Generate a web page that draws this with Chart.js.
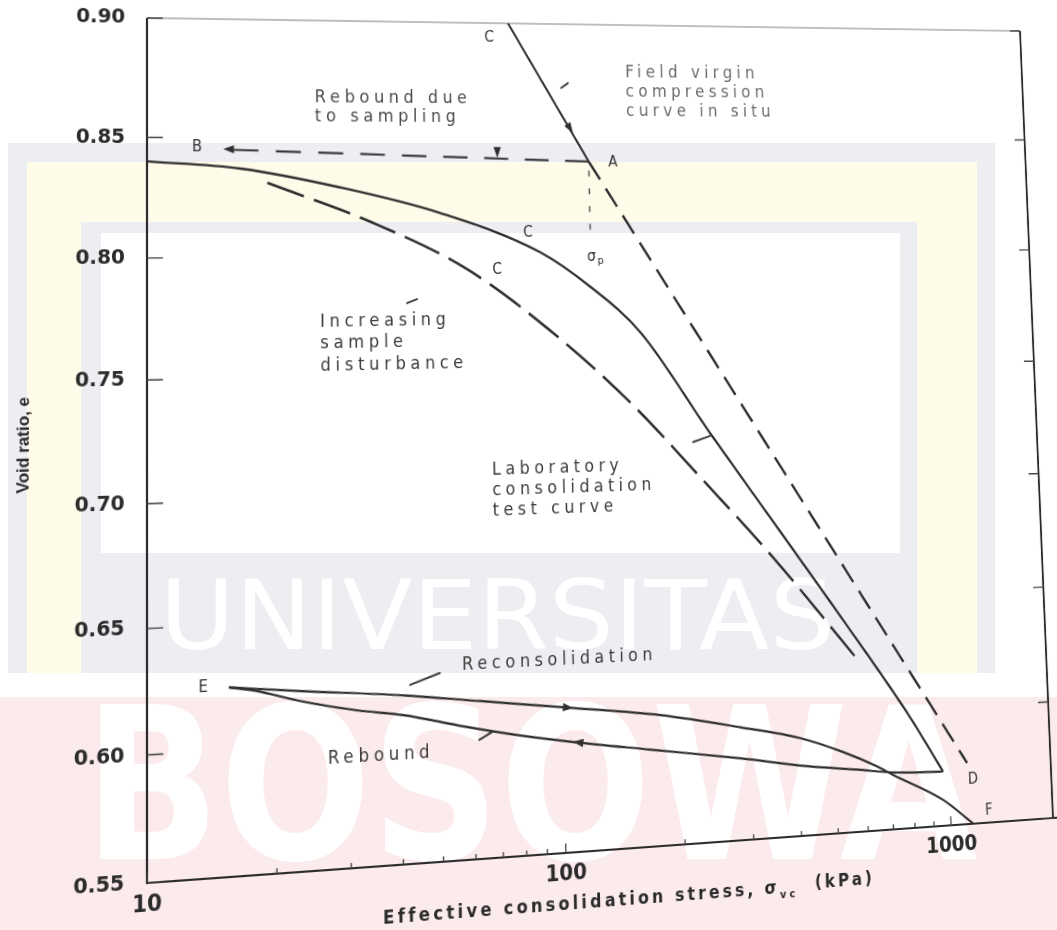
<!DOCTYPE html>
<html>
<head>
<meta charset="utf-8">
<script src="https://cdn.jsdelivr.net/npm/chart.js@4.4.1/dist/chart.umd.min.js"></script>
<style>
  html, body { margin: 0; padding: 0; width: 1057px; height: 930px; overflow: hidden; background: #fff; }
  #bg { position: absolute; left: 0; top: 0; }
  #chart { position: absolute; left: 0; top: 0; transform-origin: 0 0; }
</style>
</head>
<body>
<canvas id="bg" width="1057" height="930"></canvas>
<canvas id="chart" width="1180" height="930"></canvas>
<script>
// ---------------- data: effective stress (kPa) and void ratio e ----------------
const stressTicks = [10, 20, 30, 40, 50, 60, 70, 80, 90, 100, 200, 300, 400, 500, 600, 700, 800, 900, 1000];
const stressLabels = [10, 100, 1000];
const voidTicks = [0.55, 0.60, 0.65, 0.70, 0.75, 0.80, 0.85, 0.90];

// field virgin compression curve in situ (through A down to D)
const fieldStress = [78, 124, 1121];
const fieldVoid = [0.900, 0.840, 0.576];

// rebound due to sampling, A -> B
const samplingStress = [124, 15.2];
const samplingVoid = [0.840, 0.845];

// preconsolidation stress marker below A
const preconStress = [124, 124];
const preconVoid = [0.836, 0.809];

// laboratory consolidation test curve
const labStress = [10, 16.7, 29.2, 51.6, 91.9, 123, 165, 247, 364, 536, 794, 963];
const labVoid = [0.840, 0.837, 0.829, 0.818, 0.801, 0.786, 0.766, 0.722, 0.681, 0.640, 0.597, 0.573];

// curve with increasing sample disturbance
const disturbedStress = [19.4, 35.1, 60.0, 100.6, 154, 235, 362, 580];
const disturbedVoid = [0.831, 0.814, 0.794, 0.765, 0.736, 0.702, 0.666, 0.623];

// rebound from the maximum load back to E
const reboundStress = [15.5, 18.0, 22.8, 31.2, 40.5, 56.7, 77.9, 106, 165, 282, 419, 578, 707, 963];
const reboundVoid = [0.625, 0.623, 0.618, 0.613, 0.610, 0.604, 0.599, 0.595, 0.590, 0.584, 0.579, 0.576, 0.574, 0.573];

// reconsolidation from E on to F
const reloadStress = [15.5, 22.8, 40.6, 62.2, 106, 176, 282, 403, 522, 641, 706, 957, 1150];
const reloadVoid = [0.625, 0.622, 0.618, 0.614, 0.609, 0.604, 0.597, 0.591, 0.584, 0.577, 0.573, 0.561, 0.550];

// ---------------- annotation layout (stress, e) ----------------
const textBlocks = [
  { lines: ['Rebound due', 'to sampling'], at: [25.4, 0.867], gap: 19, color: '#4a4a4a' },
  { lines: ['Field virgin', 'compression', 'curve in situ'], at: [156, 0.879], gap: 20, color: '#6a6a6a' },
  { lines: ['Increasing', 'sample', 'disturbance'], at: [25.9, 0.7726], gap: 21.5, color: '#3a3a3a' },
  { lines: ['Laboratory', 'consolidation', 'test curve'], at: [68.0, 0.7092], gap: 20, color: '#3a3a3a' },
  { lines: ['Reconsolidation'], at: [56.4, 0.6291], gap: 20, color: '#3a3a3a' },
  { lines: ['Rebound'], at: [26.5, 0.5942], gap: 20, color: '#3a3a3a' }
];
const pointLetters = [
  ['B', 13.15, 0.846], ['A', 143.3, 0.8394], ['C', 69.7, 0.8935], ['C', 85.9, 0.8092],
  ['C', 71.4, 0.7935], ['D', 1159, 0.5686], ['E', 13.5, 0.6253], ['F', 1271, 0.5549]
];
const sigmaLabel = [127.2, 0.7987];
const leaderMarks = [
  [106.1, 0.8720, 110.6, 0.8742],
  [42.4, 0.7800, 44.9, 0.7816],
  [222.6, 0.7184, 246.7, 0.7208],
  [42.0, 0.6221, 49.7, 0.6263],
  [61.7, 0.5982, 66.4, 0.6011]
];
// arrowheads: tip (stress, e) then a point behind it
const arrowMarks = [
  [15.2, 0.8452, 19.0, 0.8449],
  [113.3, 0.8524, 102, 0.865],
  [106, 0.609, 90, 0.6107],
  [105.5, 0.5951, 125, 0.5931],
  [72.3, 0.8416, 72.3, 0.8452]
];

const ink = '#303030';
const pts = (xs, ys) => xs.map((v, i) => ({ x: v, y: ys[i] }));

// ---------------- faint page watermark behind the plot ----------------
(function paintBackdrop() {
  const g = document.getElementById('bg').getContext('2d');
  g.fillStyle = '#ffffff'; g.fillRect(0, 0, 1057, 930);
  g.fillStyle = '#eceef1'; g.fillRect(8, 143, 987, 530);
  g.fillStyle = '#fffbe9'; g.fillRect(27, 162, 950, 511);
  g.fillStyle = '#eceef1'; g.fillRect(81, 222, 836, 451);
  g.fillStyle = '#ffffff'; g.fillRect(101, 233, 799, 320);
  g.fillStyle = '#fcebec'; g.fillRect(0, 697, 1057, 233);
  function fit(text, x0, y0, x1, y1, font) {
    g.save();
    g.font = font;
    const m = g.measureText(text);
    const w = m.actualBoundingBoxLeft + m.actualBoundingBoxRight;
    const h = m.actualBoundingBoxAscent + m.actualBoundingBoxDescent;
    g.translate(x0, y0);
    g.scale((x1 - x0) / w, (y1 - y0) / h);
    g.fillStyle = '#ffffff';
    g.textBaseline = 'alphabetic';
    g.fillText(text, m.actualBoundingBoxLeft, m.actualBoundingBoxAscent);
    g.restore();
  }
  fit('UNIVERSITAS', 168, 577, 829, 650, '100px "DejaVu Sans"');
  fit('BOSOWA', 100, 700, 977, 862, 'bold 200px "DejaVu Sans"');
})();

// ---------------- helpers ----------------
function spaced(ctx, px) { if ('letterSpacing' in ctx) ctx.letterSpacing = px + 'px'; }

const frameLayer = {
  id: 'frameLayer',
  beforeDatasetsDraw(chart) {
    const { ctx, chartArea: ca, scales: { x, y } } = chart;
    ctx.save();
    ctx.lineCap = 'butt';
    ctx.strokeStyle = '#2c2c2c';
    ctx.lineWidth = 2.2;
    ctx.beginPath();
    ctx.moveTo(ca.left, ca.top); ctx.lineTo(ca.left, ca.bottom);
    ctx.lineTo(ca.right + 30, ca.bottom);
    ctx.moveTo(ca.right, ca.top); ctx.lineTo(ca.right, ca.bottom);
    ctx.stroke();
    ctx.strokeStyle = '#a9a9a9';
    ctx.lineWidth = 1.3;
    ctx.beginPath(); ctx.moveTo(ca.left, ca.top); ctx.lineTo(ca.right, ca.top); ctx.stroke();
    // inward tick marks
    ctx.strokeStyle = '#444';
    ctx.lineWidth = 1.4;
    ctx.beginPath();
    voidTicks.forEach(v => {
      const yy = y.getPixelForValue(v);
      ctx.moveTo(ca.left, yy); ctx.lineTo(ca.left + 16, yy);
      ctx.moveTo(ca.right, yy); ctx.lineTo(ca.right - 12, yy);
    });
    stressTicks.forEach(v => {
      const xx = x.getPixelForValue(v);
      const len = stressLabels.includes(v) ? 9 : 5;
      ctx.moveTo(xx, ca.bottom); ctx.lineTo(xx, ca.bottom - len);
    });
    ctx.stroke();
    ctx.restore();
  }
};

const noteLayer = {
  id: 'noteLayer',
  afterDatasetsDraw(chart) {
    const { ctx, scales: { x, y } } = chart;
    const X = v => x.getPixelForValue(v), Y = v => y.getPixelForValue(v);
    ctx.save();
    ctx.strokeStyle = '#3a3a3a'; ctx.lineWidth = 2; ctx.lineCap = 'round';
    leaderMarks.forEach(([x1, e1, x2, e2]) => {
      ctx.beginPath(); ctx.moveTo(X(x1), Y(e1)); ctx.lineTo(X(x2), Y(e2)); ctx.stroke();
    });
    ctx.fillStyle = ink;
    arrowMarks.forEach(([tx, te, fx, fe]) => {
      const x1 = X(tx), y1 = Y(te), x0 = X(fx), y0 = Y(fe);
      const a = Math.atan2(y1 - y0, x1 - x0), L = 11, W = 4;
      ctx.beginPath();
      ctx.moveTo(x1, y1);
      ctx.lineTo(x1 - L * Math.cos(a) + W * Math.sin(a), y1 - L * Math.sin(a) - W * Math.cos(a));
      ctx.lineTo(x1 - L * Math.cos(a) - W * Math.sin(a), y1 - L * Math.sin(a) + W * Math.cos(a));
      ctx.closePath(); ctx.fill();
    });
    ctx.textBaseline = 'middle';
    ctx.textAlign = 'left';
    ctx.font = '17px "DejaVu Sans"';
    spaced(ctx, 4.9);
    textBlocks.forEach(b => {
      ctx.fillStyle = b.color;
      const x0 = X(b.at[0]), y0 = Y(b.at[1]);
      b.lines.forEach((t, i) => ctx.fillText(t, x0, y0 + i * b.gap));
    });
    spaced(ctx, 0);
    ctx.textAlign = 'center';
    ctx.font = '15px "DejaVu Sans"';
    ctx.fillStyle = '#333';
    pointLetters.forEach(([t, sx, se]) => ctx.fillText(t, X(sx), Y(se)));
    // sigma_p label
    const sx = X(sigmaLabel[0]), sy = Y(sigmaLabel[1]);
    ctx.font = '15px "DejaVu Sans"';
    ctx.fillText('σ', sx - 4, sy);
    ctx.font = '11px "DejaVu Sans"';
    ctx.fillText('p', sx + 6, sy + 4);
    ctx.restore();
  },
  afterDraw(chart) {
    const { ctx, chartArea: ca } = chart;
    ctx.save();
    ctx.fillStyle = '#2b2b2b';
    ctx.textBaseline = 'middle';
    // y axis title
    ctx.save();
    ctx.translate(27, (ca.top + ca.bottom) / 2);
    ctx.rotate(-Math.PI / 2);
    ctx.textAlign = 'center';
    ctx.font = 'bold 16px "Liberation Sans"';
    ctx.fillText('Void ratio, e', 0, 0);
    ctx.restore();
    // x axis title, with subscript on sigma
    const main = 'Effective consolidation stress, σ';
    const sub = 'vc';
    const tail = '  (kPa)';
    const big = 'bold 17px "DejaVu Sans"', small = 'bold 11px "DejaVu Sans"';
    spaced(ctx, 3.4);
    ctx.font = big; const w1 = ctx.measureText(main).width;
    ctx.font = small; const w2 = ctx.measureText(sub).width;
    ctx.font = big; const w3 = ctx.measureText(tail).width;
    let cx = ca.left + (ca.right - ca.left) * 0.514 - (w1 + w2 + w3) / 2;
    const cy = ca.bottom + 50;
    ctx.textAlign = 'left';
    ctx.font = big; ctx.fillText(main, cx, cy); cx += w1;
    ctx.font = small; ctx.fillText(sub, cx, cy + 6); cx += w2;
    ctx.font = big; ctx.fillText(tail, cx, cy - 2);
    spaced(ctx, 0);
    ctx.restore();
  }
};

const tickFont = { family: 'DejaVu Sans', size: 20, weight: 'bold' };

const chart = new Chart(document.getElementById('chart'), {
  type: 'line',
  data: {
    datasets: [
      { label: 'Field virgin compression (above A)', data: pts(fieldStress.slice(0, 2), fieldVoid.slice(0, 2)),
        borderColor: ink, borderWidth: 2.2 },
      { label: 'Field virgin compression (below A)', data: pts(fieldStress.slice(1), fieldVoid.slice(1)),
        borderColor: ink, borderWidth: 2.6, borderDash: [22, 11] },
      { label: 'Rebound due to sampling', data: pts(samplingStress, samplingVoid),
        borderColor: '#3a3a3a', borderWidth: 2.2, borderDash: [26, 18] },
      { label: 'Preconsolidation stress', data: pts(preconStress, preconVoid),
        borderColor: '#555', borderWidth: 1.6, borderDash: [6, 12] },
      { label: 'Laboratory consolidation test curve', data: pts(labStress, labVoid),
        borderColor: ink, borderWidth: 2.4, cubicInterpolationMode: 'monotone' },
      { label: 'Increasing sample disturbance', data: pts(disturbedStress, disturbedVoid),
        borderColor: ink, borderWidth: 2.6, borderDash: [40, 11], cubicInterpolationMode: 'monotone' },
      { label: 'Rebound', data: pts(reboundStress, reboundVoid),
        borderColor: ink, borderWidth: 2.2, cubicInterpolationMode: 'monotone' },
      { label: 'Reconsolidation', data: pts(reloadStress, reloadVoid),
        borderColor: ink, borderWidth: 2.2, cubicInterpolationMode: 'monotone' }
    ]
  },
  options: {
    responsive: false,
    animation: false,
    devicePixelRatio: 1,
    layout: { padding: { left: 0, top: 18, right: 63, bottom: 0 } },
    elements: { point: { radius: 0 }, line: { fill: false } },
    plugins: { legend: { display: false }, tooltip: { enabled: false } },
    scales: {
      x: {
        type: 'logarithmic', min: 10, max: 1900,
        afterFit: s => { s.height = 82; },
        afterBuildTicks: s => { s.ticks = stressTicks.map(v => ({ value: v })); },
        grid: { display: false }, border: { display: false },
        ticks: { autoSkip: false, maxRotation: 0, padding: 0, font: { ...tickFont, size: 21 }, color: '#2b2b2b',
          callback: v => (stressLabels.includes(v) ? String(v) : '') }
      },
      y: {
        type: 'linear', min: 0.55, max: 0.90,
        afterFit: s => { s.width = 147; },
        afterBuildTicks: s => { s.ticks = voidTicks.map(v => ({ value: v })); },
        grid: { display: false }, border: { display: false },
        ticks: { padding: 14, font: tickFont, color: '#2b2b2b', callback: v => v.toFixed(2) }
      }
    }
  },
  plugins: [frameLayer, noteLayer]
});

// ---------------- photographed-page perspective ----------------
function solveLinear(A, b) {
  const n = b.length;
  const M = A.map((row, i) => [...row, b[i]]);
  for (let c = 0; c < n; c++) {
    let p = c;
    for (let r = c + 1; r < n; r++) if (Math.abs(M[r][c]) > Math.abs(M[p][c])) p = r;
    [M[c], M[p]] = [M[p], M[c]];
    for (let r = 0; r < n; r++) {
      if (r === c) continue;
      const f = M[r][c] / M[c][c];
      for (let k = c; k <= n; k++) M[r][k] -= f * M[c][k];
    }
  }
  return M.map((row, i) => row[n] / row[i]);
}
function warpMatrix(src, dst) {
  const A = [], b = [];
  for (let i = 0; i < 4; i++) {
    const [x, y] = src[i], [X, Y] = dst[i];
    A.push([x, y, 1, 0, 0, 0, -x * X, -y * X]); b.push(X);
    A.push([0, 0, 0, x, y, 1, -x * Y, -y * Y]); b.push(Y);
  }
  const h = solveLinear(A, b);
  return `matrix3d(${h[0]},${h[3]},0,${h[6]},${h[1]},${h[4]},0,${h[7]},0,0,1,0,${h[2]},${h[5]},0,1)`;
}
const ca = chart.chartArea;
const plotCorners = [[ca.left, ca.top], [ca.right, ca.top], [ca.right, ca.bottom], [ca.left, ca.bottom]];
const pageCorners = [[147, 18], [1020, 31], [1053, 818], [147, 883]];
chart.canvas.style.transform = warpMatrix(plotCorners, pageCorners);
</script>
</body>
</html>
